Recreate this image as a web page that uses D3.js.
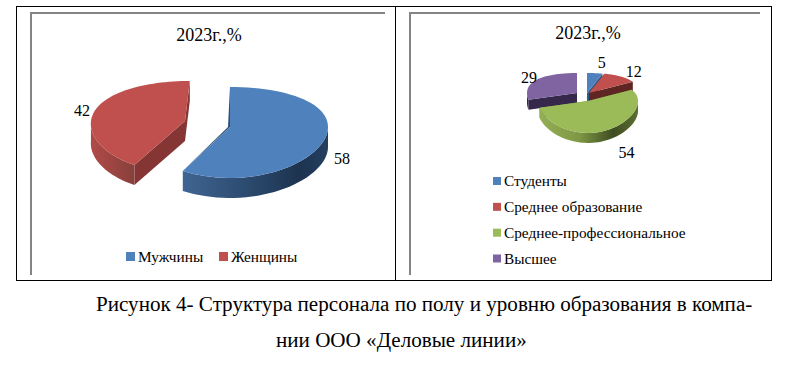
<!DOCTYPE html>
<html><head><meta charset="utf-8">
<script src="https://cdnjs.cloudflare.com/ajax/libs/d3/7.8.5/d3.min.js"></script>
<style>html,body{margin:0;padding:0;background:#fff}svg{display:block}text{font-family:"Liberation Serif",serif;fill:#000}</style>
</head><body><svg id="c" width="791" height="375"></svg>
<script>
// ---- data ----
const title = "2023г.,%";
const genderCategories = ["Мужчины", "Женщины"];
const genderValues = [58, 42];
const eduCategories = ["Студенты", "Среднее образование", "Среднее-профессиональное", "Высшее"];
const eduValues = [5, 12, 54, 29];
const captionLines = ["Рисунок 4- Структура персонала по полу и уровню образования в компа-", "нии ООО «Деловые линии»"];

// ---- styles ----
const palette = {
  blue:   {top:"#4f81bd", face:"#2c4d75", wall:[["0","#3f6592"],["0.45","#2c4a6e"],["0.8","#1d3350"],["1","#243f61"]]},
  red:    {top:"#c0504d", face:"#853634", wall:[["0","#b14a47"],["1","#87403c"]]},
  redDark:{top:"#c0504d", face:"#5e2523", wall:[["0","#5e2523"],["1","#5e2523"]]},
  green:  {top:"#9bbb59", face:"#6b8a3a", wall:[["0","#93ae54"],["0.4","#7f9845"],["0.75","#3f4d22"],["1","#5a6f30"]]},
  purple: {top:"#8064a2", face:"#35284a", wall:[["0","#35284a"],["1","#35284a"]]},
  blueSm: {top:"#4f81bd", face:"#2f5a8c", wall:[["0","#2f5a8c"],["1","#2f5a8c"]]}
};
const svg = d3.select("#c"), defs = svg.append("defs");
const pie = d3.pie().sort(null).value(d => d);
const line = d3.line().curve(d3.curveLinearClosed);
let gid = 0;

function drawPie(cfg) {
  const arcs = pie(cfg.values);
  const order = cfg.drawOrder;
  const y = s => cfg.ry * s * (1 + cfg.k * s);          // perspective on the screen-vertical
  order.forEach(i => {
    const a = arcs[i], o = cfg.slices[i], col = palette[o.color];
    const rx = o.rx || cfg.rx, sh = o.shear || 0;
    const ax = cfg.cx + o.dx, ay = cfg.cy + o.dy;
    const P = t => { const yy = y(-Math.cos(t)); return [ax + rx * Math.sin(t) + sh * yy, ay + yy]; };
    const angs = d3.range(0, 61).map(j => a.startAngle + (a.endAngle - a.startAngle) * j / 60);
    const down = (p, d) => [p[0], p[1] + d];
    const g = svg.append("g");
    // cut faces
    [a.startAngle, a.endAngle].forEach(t => {
      const r = P(t), ap = [ax, ay], v = o.sliver;
      const pts = v ? [r, ap, [ap[0] + v[0], ap[1] + v[1]]]
                    : [r, ap, down(ap, cfg.depth), down(r, cfg.depth)];
      g.append("path").attr("d", line(pts)).attr("fill", col.face);
    });
    // outer wall
    const vis = angs.filter(t => Math.cos(t) < 0.02);
    if (vis.length > 1) {
      const id = "g" + (gid++);
      const xs = vis.map(t => P(t)[0]);
      const lg = defs.append("linearGradient").attr("id", id).attr("gradientUnits", "userSpaceOnUse")
        .attr("x1", d3.min(xs)).attr("x2", d3.max(xs)).attr("y1", 0).attr("y2", 0);
      col.wall.forEach(s => lg.append("stop").attr("offset", s[0]).attr("stop-color", s[1]));
      const top = vis.map(P), bot = vis.map(t => down(P(t), cfg.depth)).reverse();
      g.append("path").attr("d", line(top.concat(bot))).attr("fill", `url(#${id})`);
    }
    // top face
    g.append("path").attr("d", line([[ax, ay]].concat(angs.map(P)))).attr("fill", col.top);
  });
  // value labels
  arcs.forEach((a, i) => {
    const o = cfg.slices[i], t = (a.startAngle + a.endAngle) / 2, yy = y(-Math.cos(t));
    svg.append("text").attr("x", cfg.cx + o.dx + cfg.rx * Math.sin(t) + o.lab[0])
      .attr("y", cfg.cy + o.dy + yy + o.lab[1]).attr("text-anchor", "middle").attr("dominant-baseline", "central")
      .attr("font-size", 16).text(a.data);
  });
}

// frames
const rect = (x, y, w, h, f) => svg.append("rect").attr("x", x).attr("y", y).attr("width", w).attr("height", h).attr("fill", f);
const frame = "#000", gray = "#848484";
rect(16, 6, 756, 1, frame); rect(16, 280, 756, 1, frame);
rect(16, 6, 1, 275, frame); rect(395, 6, 1, 275, frame); rect(771, 6, 1, 275, frame);
rect(30, 12, 355, 2, gray); rect(30, 12, 2, 263, gray);
rect(409, 12, 351, 2, gray); rect(409, 12, 2, 263, gray);

svg.append("text").attr("x", 209).attr("y", 41).attr("text-anchor", "middle").attr("font-size", 18).text(title);
svg.append("text").attr("x", 588).attr("y", 39).attr("text-anchor", "middle").attr("font-size", 18).text(title);

drawPie({values: genderValues, cx: 230, cy: 127, rx: 98, ry: 45.5, k: 0.12, depth: 20, drawOrder: [1, 0],
  slices: [
    {color: "blue", dx: 0, dy: 0, sliver: [-2, 0], lab: [17, 20]},
    {color: "red", dx: -45, dy: -6, rx: 94, shear: -0.12, lab: [-8, 0]}
  ]});
drawPie({values: eduValues, cx: 588, cy: 101, rx: 50, ry: 26, k: 0.23, depth: 10, drawOrder: [3, 0, 1, 2],
  slices: [
    {color: "blueSm", dx: -1, dy: -8, lab: [7, -11]},
    {color: "redDark", dx: 1, dy: -8, lab: [13, -5.5]},
    {color: "green", dx: 0, dy: 0, lab: [20, 22]},
    {color: "purple", dx: -11, dy: -8, lab: [-8.5, -2]}
  ]});

// legends
const colL = ["#4f81bd", "#c0504d"], colR = ["#4f81bd", "#c0504d", "#9bbb59", "#8064a2"];
const legX = d3.scaleOrdinal().domain(genderCategories).range([126, 219]);
genderCategories.forEach((c, i) => {
  rect(legX(c), 252, 9, 9, colL[i]);
  svg.append("text").attr("x", legX(c) + 12).attr("y", 262).attr("font-size", 15.3).text(c);
});
const legY = d3.scalePoint().domain(eduCategories).range([177, 254.5]);
eduCategories.forEach((c, i) => {
  rect(493, legY(c), 8, 8, colR[i]);
  svg.append("text").attr("x", 504).attr("y", legY(c) + 9).attr("font-size", 15.3).text(c);
});
// caption
svg.append("text").attr("x", 96).attr("y", 311).attr("font-size", 21.1).text(captionLines[0]);
svg.append("text").attr("x", 276).attr("y", 347).attr("font-size", 21.1).text(captionLines[1]);
</script></body></html>
